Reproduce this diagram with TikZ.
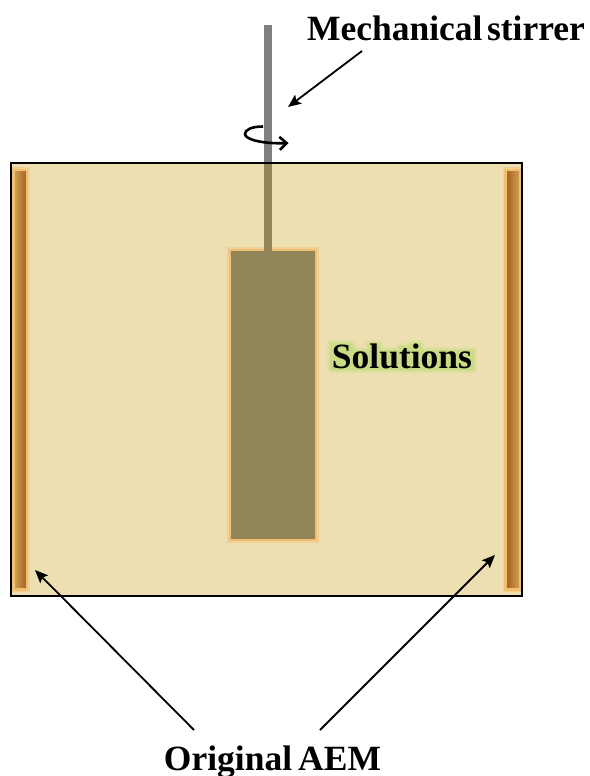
\documentclass[tikz,border=0pt]{standalone}
\usepackage{fontspec}
\setmainfont{Liberation Serif}
\usetikzlibrary{arrows.meta}
\definecolor{tankfill}{HTML}{EDDFB2}
\definecolor{glow}{HTML}{F2BE70}
\definecolor{bladefill}{HTML}{928559}
\definecolor{darkm}{HTML}{A5601A}
\definecolor{lightm}{HTML}{D2A25A}
\definecolor{halo}{HTML}{C9DC84}
\tikzset{
  x=1bp,y=-1bp,
  labeltext/.style={font=\bfseries\fontsize{35.5bp}{38bp}\selectfont,inner sep=0pt,anchor=base},
  pointer/.style={draw=black,line width=1.8bp,-{Stealth[length=13bp,width=11bp,inset=2.5bp]}},
  tank/.style={draw=black,line width=1.6bp,fill=tankfill},
  softglow/.style={draw=glow,line width=4.5bp,opacity=.4},
  membrane/.style={draw=glow,line width=2.6bp},
  blade/.style={draw=glow,line width=1.8bp,fill=bladefill},
  halolayer/.style={draw=halo,fill=halo,line join=round},
}
\def\haloshape{(331,344) -- (352,344) -- (352,351) -- (369,351) -- (369,344) -- (379,344) -- (379,351) -- (400,351) -- (400,347) -- (410,347) -- (411,344) -- (420,344) -- (421,351) -- (473,351) -- (473,369) -- (331,369) -- cycle}
\begin{document}
\begin{tikzpicture}
\useasboundingbox (0,0) rectangle (590,776);
% stirrer
\fill[black!50] (264,25) rectangle (272,163);
% tank
\node[tank,minimum width=511bp,minimum height=433bp,inner sep=0pt,outer sep=0pt] (tankbox) at (266.5,379.5) {};
% shaft in liquid
\fill[bladefill] (264,164) rectangle (272,250);
% impeller
\draw[softglow] (229.5,249.5) rectangle (316.5,540.5);
\node[blade,minimum width=86bp,minimum height=290bp,inner sep=0pt] (impeller) at (273,395) {};
\fill[bladefill] (264,247) rectangle (272,251);
% membranes
\draw[softglow] (13,169) rectangle (28,590);
\draw[softglow] (505,169) rectangle (521,590);
\path[membrane,left color=lightm,right color=darkm] (13.5,170) rectangle (27,589.5);
\path[membrane,left color=darkm,right color=lightm] (505.5,170) rectangle (520.5,589.5);
\draw[black,line width=1.6bp] (tankbox.north west) rectangle (tankbox.south east);
% rotation arrow
\coordinate (rotstart) at (263,126.5);
\coordinate (rothead) at (288.5,143);
\draw[black,line width=2.6bp,-{Straight Barb[length=7bp,width=13bp,line width=2.6bp]}] (rotstart) .. controls (251,126.5) and (245,130) .. (245,134) .. controls (245,140) and (265,144) .. (rothead);
% labels
\node[labeltext] (stirrerlabel) at (446,41) {\spaceskip=4.5bp\relax Mechanical stirrer};
\coordinate (s1) at (362,51);
\coordinate (s2) at (288,107);
\draw[pointer] (s1) -- (s2);
\path[halolayer,line width=8bp,opacity=.3] \haloshape;
\path[halolayer,line width=4bp,opacity=.6] \haloshape;
\path[halolayer,line width=1bp] \haloshape;
\node[labeltext] (solutions) at (402,368) {Solutions};
\node[labeltext] (aemlabel) at (272.5,770) {\spaceskip=6bp\relax Original AEM};
\coordinate (a1) at (194,730);
\coordinate (a2) at (35,570);
\coordinate (b1) at (320,730);
\coordinate (b2) at (495,555);
\draw[pointer] (a1) -- (a2);
\draw[pointer] (b1) -- (b2);
\end{tikzpicture}
\end{document}
